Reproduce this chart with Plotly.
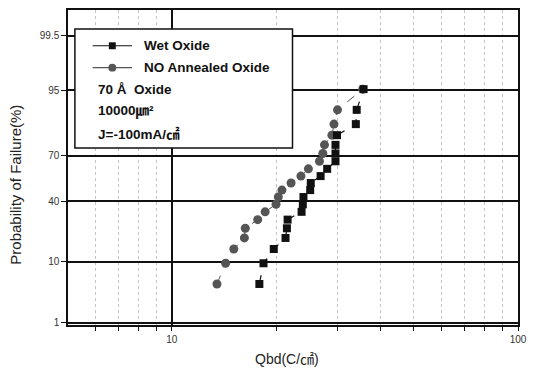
import plotly.graph_objects as go
from statistics import NormalDist

# ---- data ----
wet_qbd = [17.9, 18.4, 19.7, 21.3, 21.5, 21.6, 23.7, 23.9, 24.0, 25.1, 25.2,
           26.9, 28.1, 29.7, 29.7, 29.7, 30.0, 34.0, 34.2, 35.8]
wet_pct = [4.8, 9.5, 14.3, 19.0, 23.8, 28.6, 33.3, 38.1, 42.9, 47.6, 52.4,
           57.1, 61.9, 66.7, 71.4, 76.2, 81.0, 85.7, 90.5, 95.2]
no_qbd = [13.5, 14.3, 15.1, 16.2, 16.3, 17.7, 18.6, 20.0, 20.3, 20.8, 22.1,
          23.6, 24.8, 26.7, 27.3, 27.6, 29.0, 29.4, 30.1, 35.6]
no_pct = [4.8, 9.5, 14.3, 19.0, 23.8, 28.6, 33.3, 38.1, 42.9, 47.6, 52.4,
          57.1, 61.9, 66.7, 71.4, 76.2, 81.0, 85.7, 90.5, 95.2]
y_ticks = [1, 10, 40, 70, 95, 99.5]
y_tick_labels = ["1", "10", "40", "70", "95", "99.5"]
x_ticks = [10, 100]
x_minor = [6, 7, 8, 9, 20, 30, 40, 50, 60, 70, 80, 90]

nd = NormalDist()
def probit(p):
    return nd.inv_cdf(p / 100.0)

W, H = 535, 371
L, R, T, B = 68, 10, 8, 46
PW, PH = W - L - R, H - T - B

def px(x):
    return (x - L) / PW

def py(y):
    return (H - B - y) / PH

fig = go.Figure()
fig.add_trace(go.Scatter(
    x=no_qbd, y=[probit(p) for p in no_pct], mode="lines+markers",
    line=dict(color="#555555", width=1, dash="dash"),
    marker=dict(symbol="circle", size=9, color="#555555"),
    name="NO Annealed Oxide", showlegend=False))
fig.add_trace(go.Scatter(
    x=wet_qbd, y=[probit(p) for p in wet_pct], mode="lines+markers",
    line=dict(color="#111111", width=1.2, dash="dash"),
    marker=dict(symbol="square", size=8, color="#111111"),
    name="Wet Oxide", showlegend=False))

shapes = []
# legend box
shapes.append(dict(type="rect", xref="paper", yref="paper",
                   x0=px(75), x1=px(296), y0=py(147), y1=py(27),
                   line=dict(color="#111", width=1.5), fillcolor="white", layer="above"))
# legend symbols
for yy, col in [(44, "#111"), (66, "#555")]:
    shapes.append(dict(type="line", xref="paper", yref="paper",
                       x0=px(93), x1=px(133), y0=py(yy), y1=py(yy),
                       line=dict(color=col, width=1.2), layer="above"))
shapes.append(dict(type="rect", xref="paper", yref="paper",
                   x0=px(109.5), x1=px(116.5), y0=py(47.5), y1=py(40.5),
                   line=dict(width=0), fillcolor="#111", layer="above"))
shapes.append(dict(type="circle", xref="paper", yref="paper",
                   x0=px(109), x1=px(117), y0=py(70), y1=py(62),
                   line=dict(width=0), fillcolor="#555", layer="above"))

bold = dict(family="Liberation Sans, Arial, Noto Sans CJK KR", size=13.5, color="#111")
ann = []
for txt, x0, y0 in [("<b>Wet Oxide</b>", 143, 44), ("<b>NO Annealed Oxide</b>", 143, 66),
                    ("<b>70 Å  Oxide</b>", 96, 88), ("<b>10000㎛²</b>", 96, 110),
                    ("<b>J=-100mA/㎠</b>", 96, 133)]:
    ann.append(dict(text=txt, x=px(x0), y=py(y0), xref="paper", yref="paper",
                    xanchor="left", yanchor="middle", showarrow=False, font=bold))
ann.append(dict(text="Probability of Failure(%)", x=px(15), y=py(184), xref="paper", yref="paper",
                textangle=-90, showarrow=False, xanchor="center", yanchor="middle",
                font=dict(family="Liberation Sans, Arial", size=15, color="#222")))
ann.append(dict(text="Qbd(C/㎠)", x=px(290), y=py(359), xref="paper", yref="paper",
                showarrow=False, xanchor="center", yanchor="middle",
                font=dict(family="Liberation Sans, Arial, Noto Sans CJK KR", size=14, color="#222")))

fig.update_layout(
    width=W, height=H, margin=dict(l=L, r=R, t=T, b=B),
    paper_bgcolor="white", plot_bgcolor="white",
    shapes=shapes, annotations=ann, showlegend=False,
    xaxis=dict(type="log", range=[0.7, 2.0], tickvals=x_ticks, ticktext=["10", "100"],
               ticks="outside", ticklen=4, tickwidth=1.2, tickcolor="#111",
               showline=True, linecolor="#111", linewidth=1.5, mirror=True,
               showgrid=True, gridcolor="#111", gridwidth=1.5, zeroline=False,
               tickfont=dict(family="Liberation Sans, Arial", size=10, color="#333"),
               minor=dict(tickvals=x_minor, ticks="outside", ticklen=4, tickcolor="#111",
                          showgrid=True, gridcolor="#c4c4c4", griddash="dot", gridwidth=1)),
    yaxis=dict(range=[probit(0.9), 3.017], tickvals=[probit(v) for v in y_ticks],
               ticktext=y_tick_labels,
               ticks="outside", ticklen=5, tickwidth=1.2, tickcolor="#111",
               showline=True, linecolor="#111", linewidth=1.5, mirror=True,
               showgrid=True, gridcolor="#111", gridwidth=1.5, zeroline=False,
               tickfont=dict(family="Liberation Sans, Arial", size=10, color="#333")),
)
fig.write_html("out.html")
